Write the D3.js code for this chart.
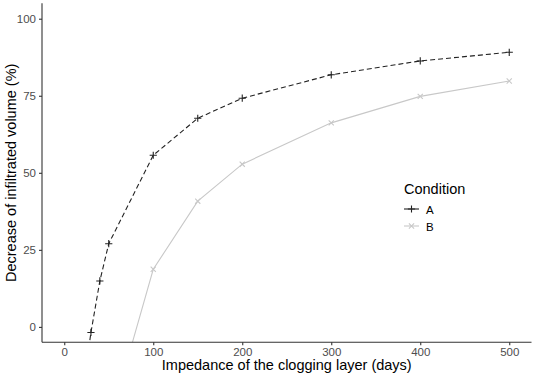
<!DOCTYPE html>
<html><head><meta charset="utf-8">
<script src="https://cdn.jsdelivr.net/npm/d3@7"></script>
<style>body{margin:0;background:#fff}svg{display:block;font-family:Arial,"Liberation Sans",sans-serif}</style>
</head><body>
<svg id="c" width="534" height="378"></svg>
<script>
const xTicks = [0, 100, 200, 300, 400, 500];
const yTicks = [0, 25, 50, 75, 100];
const seriesNames = ["A", "B"];
const xA = [25, 30, 40, 50, 100, 150, 200, 300, 400, 500];
const yA = [-12, -1.8, 14.9, 27.0, 55.7, 67.7, 74.2, 81.8, 86.3, 89.1];
const xB = [50, 100, 150, 200, 300, 400, 500];
const yB = [-32, 18.7, 40.8, 52.8, 66.2, 74.8, 79.8];
const legendTitle = "Condition";
const xTitle = "Impedance of the clogging layer (days)";
const yTitle = "Decrease of infiltrated volume (%)";

const svg = d3.select("#c");
const L = 42, R = 531.5, T = 3.3, B = 342.3;
const x = d3.scaleLinear().domain([-25, 525]).range([L, R]);
const y = d3.scaleLinear().domain([-5, 105]).range([B, T]);

svg.append("defs").append("clipPath").attr("id","clip")
  .append("rect").attr("x",L).attr("y",T).attr("width",R-L).attr("height",B-T);

const series = [
  {name: seriesNames[0], xs: xA, ys: yA, color: "#222222", dash: "5,3", shape: "plus"},
  {name: seriesNames[1], xs: xB, ys: yB, color: "#c8c8c8", dash: null, shape: "cross"}
];
const line = d3.line().x(d => x(d[0])).y(d => y(d[1]));
const g = svg.append("g").attr("clip-path","url(#clip)");
function marker(sel, cx, cy, shape, color, s) {
  const p = shape === "plus"
    ? `M${cx-s},${cy}L${cx+s},${cy}M${cx},${cy-s}L${cx},${cy+s}`
    : `M${cx-s*0.72},${cy-s*0.72}L${cx+s*0.72},${cy+s*0.72}M${cx-s*0.72},${cy+s*0.72}L${cx+s*0.72},${cy-s*0.72}`;
  sel.append("path").attr("d", p).attr("stroke", color).attr("stroke-width", 1.1).attr("fill","none");
}
series.forEach(s => {
  const pts = s.xs.map((v,i) => [v, s.ys[i]]);
  g.append("path").attr("d", line(pts)).attr("fill","none").attr("stroke", s.color)
    .attr("stroke-width", 1.1).attr("stroke-dasharray", s.dash);
  pts.forEach(p => marker(g, x(p[0]), y(p[1]), s.shape, s.color, 3.6));
});

// axes
const xa = svg.append("g").attr("transform",`translate(0,${B})`)
  .call(d3.axisBottom(x).tickValues(xTicks).tickSize(3).tickPadding(3));
const ya = svg.append("g").attr("transform",`translate(${L},0)`)
  .call(d3.axisLeft(y).tickValues(yTicks).tickSize(3).tickPadding(3));
[xa, ya].forEach(a => {
  a.select(".domain").attr("stroke","#333").attr("stroke-width",1.1).attr("d", null);
  a.selectAll(".tick line").attr("stroke","#333").attr("stroke-width",1.1);
  a.selectAll(".tick text").attr("fill","#4d4d4d").style("font-size","11.5px");
});
xa.select(".domain").attr("d", `M${L},0H${R}`);
ya.select(".domain").attr("d", `M0,${T}V${B}`);

svg.append("text").attr("x", (L+R)/2).attr("y", 370).attr("text-anchor","middle")
  .style("font-size","14.5px").attr("fill","#000").text(xTitle);
svg.append("text").attr("transform",`translate(16,${(T+B)/2}) rotate(-90)`).attr("text-anchor","middle")
  .style("font-size","14.5px").attr("fill","#000").text(yTitle);

// legend
const lg = svg.append("g");
lg.append("text").attr("x",404).attr("y",194).style("font-size","14.5px").attr("fill","#000").text(legendTitle);
series.forEach((s,i) => {
  const cy = 209 + i*17;
  lg.append("line").attr("x1",404).attr("x2",419).attr("y1",cy).attr("y2",cy)
    .attr("stroke", s.color).attr("stroke-width",1.1);
  marker(lg, 411.5, cy, s.shape, s.color, 3.6);
  lg.append("text").attr("x",426).attr("y",cy+4.5).style("font-size","11.5px").attr("fill","#000").text(s.name);
});
</script>
</body></html>
